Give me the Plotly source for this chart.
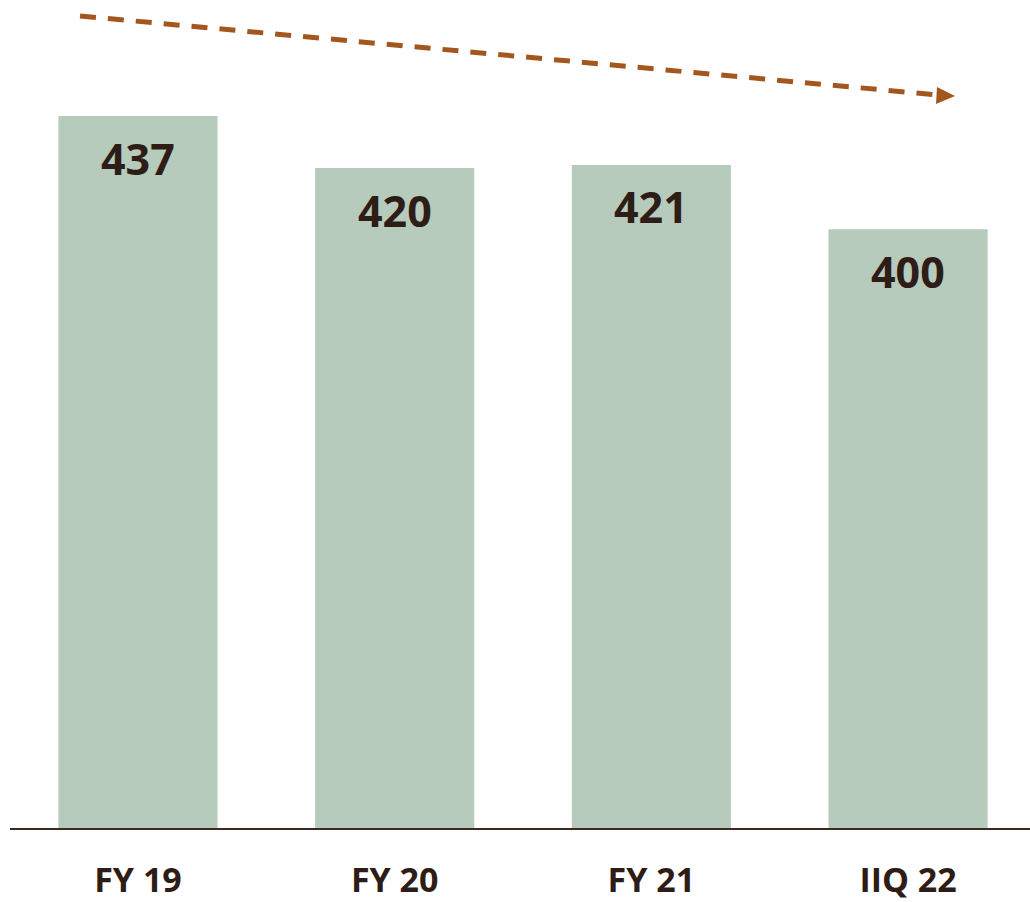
import plotly.graph_objects as go

categories = ["FY 19", "FY 20", "FY 21", "IIQ 22"]
values = [437, 420, 421, 400]

BAR_COLOR = "#b7cbbc"
TEXT_COLOR = "#2e1d17"
ARROW_COLOR = "#a3571f"
FONT = "Open Sans"

fig = go.Figure()
fig.add_trace(go.Bar(
    x=categories, y=values, marker=dict(color=BAR_COLOR, line=dict(width=0)),
    width=0.62, textposition="none", hoverinfo="skip",
))

for c, v in zip(categories, values):
    fig.add_annotation(x=c, y=v, text=f"<b>{v}</b>", showarrow=False,
                       yanchor="middle", yshift=-42,
                       font=dict(family=FONT, size=43, color=TEXT_COLOR))

W, H = 1030, 902
L, B = 10, 74
pw, ph = W - L, H - B

def px(xp):
    return (xp - L) / pw

def py(yp):
    return (H - B - yp) / ph

# dashed trend line
fig.add_shape(type="line", xref="paper", yref="paper",
              x0=px(80), y0=py(16), x1=px(938), y1=py(95),
              line=dict(color=ARROW_COLOR, width=5, dash="16px,12px"))
fig.add_shape(type="path", xref="paper", yref="paper",
              path=f"M {px(955)} {py(96)} L {px(937)} {py(87)} L {px(936)} {py(104)} Z",
              fillcolor=ARROW_COLOR, line=dict(width=0))

fig.update_layout(
    width=W, height=H,
    margin=dict(l=L, r=0, t=0, b=B, pad=0, autoexpand=False),
    paper_bgcolor="white", plot_bgcolor="white",
    showlegend=False, bargap=0.38,
    xaxis=dict(range=[-0.4986, 3.475], showgrid=False, zeroline=False,
               showline=True, linecolor="#3a2a22", linewidth=2, automargin=False,
               ticks="", tickfont=dict(family=FONT, size=34, color=TEXT_COLOR),
               ticklabelstandoff=21),
    yaxis=dict(range=[204, 475], visible=False, showgrid=False, zeroline=False,
               automargin=False),
)
fig.update_xaxes(tickprefix="<b>", ticksuffix="</b>")

fig.write_html("out.html", config={"displayModeBar": False},
               post_script="document.body.style.margin='0';document.body.style.overflow='hidden';")
